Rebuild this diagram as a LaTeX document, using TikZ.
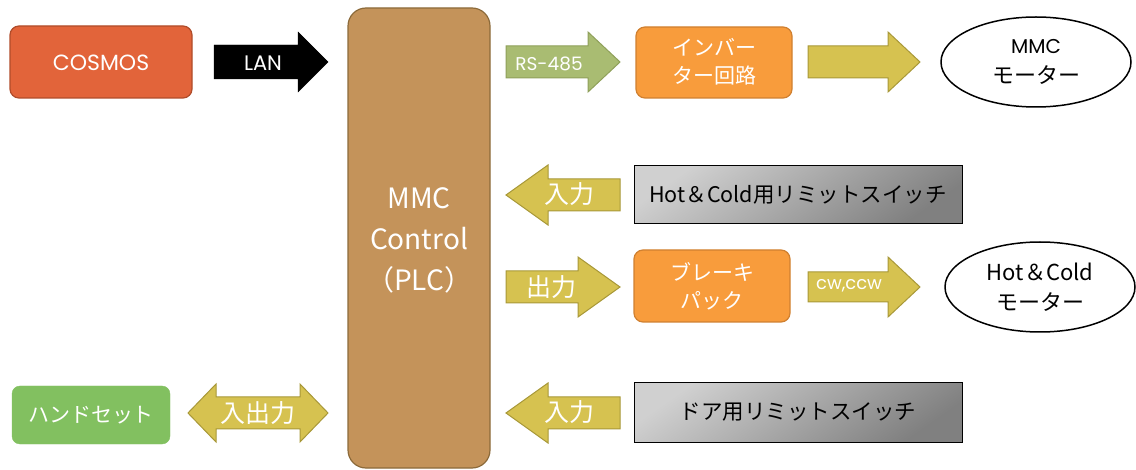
\documentclass[tikz,border=0pt]{standalone}
\usepackage{fontspec}
\setmainfont{Noto Sans CJK JP}
\newfontfamily\lat{Poppins}
\usetikzlibrary{shapes.geometric}
\definecolor{cosmos}{HTML}{E2643A}
\definecolor{cosmosb}{HTML}{B04C2A}
\definecolor{mmc}{HTML}{C4935A}
\definecolor{mmcb}{HTML}{8C6A3A}
\definecolor{rsg}{HTML}{A9BC72}
\definecolor{rsgb}{HTML}{8FA05A}
\definecolor{orng}{HTML}{F89C3C}
\definecolor{orngb}{HTML}{D08030}
\definecolor{yel}{HTML}{D6C250}
\definecolor{yelb}{HTML}{A89838}
\definecolor{hgreen}{HTML}{82C060}
\definecolor{gtop}{HTML}{D0D0D0}
\definecolor{gbot}{HTML}{808080}
\newcommand\barrow[7]{\draw[#1] (#2,#5-#6) -- (#3,#5-#6) -- (#3,#5-#7) -- (#4,#5) -- (#3,#5+#7) -- (#3,#5+#6) -- (#2,#5+#6) -- cycle;}
\tikzset{
  box/.style={rounded corners=9pt, line width=1.2pt},
  wtext/.style={text=white, align=center, inner sep=0pt},
  btext/.style={text=black, align=center, inner sep=0pt},
  yarrow/.style={fill=yel, draw=yelb, line width=1pt},
  graybox/.style={draw=black, line width=1pt, top color=gtop, bottom color=gbot, shading angle=35},
  motor/.style={draw=black, line width=1.5pt, fill=white}
}
\begin{document}
\begin{tikzpicture}[x=1pt,y=-1pt]
\useasboundingbox (0,0) rectangle (1136,470);
% main boxes
\draw[box, fill=cosmos, draw=cosmosb] (10,26) rectangle (192,98);
\node[wtext, font=\lat\fontsize{22}{26}\selectfont] (cosmos) at (101,63) {COSMOS};
\draw[box, rounded corners=18pt, fill=mmc, draw=mmcb] (348,8) rectangle (490,468);
\node[wtext, font=\fontsize{28}{41}\selectfont] (plc) at (419,240) {MMC\\Control\\（PLC）};
% LAN arrow
\barrow{fill=black}{214}{298}{328}{62}{17}{30}
\node[wtext, font=\lat\fontsize{21}{24}\selectfont] (lan) at (263,63) {LAN};
% row 1
\barrow{fill=rsg, draw=rsgb, line width=1pt}{506}{588}{620}{62}{16}{30}
\node[wtext, font=\lat\fontsize{18.5}{20}\selectfont] (rs) at (549,64) {RS-485};
\draw[box, fill=orng, draw=orngb] (636,27) rectangle (792,98);
\node[wtext, font=\fontsize{21}{28}\selectfont] (inv) at (714,62) {インバー\\ター回路};
\barrow{yarrow}{808}{888}{920}{62}{16}{30}
\draw[motor] (1036,62) ellipse [x radius=95, y radius=45];
\node[btext, font=\fontsize{22}{30}\selectfont] (m1) at (1036,62) {{\lat\fontsize{20}{22}\selectfont MMC}\\モーター};
% row 2
\barrow{yarrow}{620}{548}{506}{195}{16}{30}
\node[wtext, font=\fontsize{25}{28}\selectfont] (in1) at (569,194) {入力};
\draw[graybox] (634,166) rectangle (962,224);
\node[btext, font=\fontsize{21.5}{24}\selectfont] (ls1) at (798,195) {Hot＆Cold用リミットスイッチ};
% row 3
\barrow{yarrow}{506}{578}{620}{287}{16}{30}
\node[wtext, font=\fontsize{25}{28}\selectfont] (out1) at (551,287) {出力};
\draw[box, fill=orng, draw=orngb] (634,250) rectangle (790,322);
\node[wtext, font=\fontsize{21}{28}\selectfont] (brk) at (712,286) {ブレーキ\\パック};
\barrow{yarrow}{808}{888}{920}{287}{15}{30}
\node[wtext, font=\lat\fontsize{18}{20}\selectfont] (cw) at (849,286) {cw,ccw};
\draw[motor] (1040,287) ellipse [x radius=95, y radius=45];
\node[btext, font=\fontsize{22}{30}\selectfont] (m2) at (1040,287) {Hot＆Cold\\モーター};
% row 4
\draw[rounded corners=8pt, fill=hgreen, draw=hgreen] (12,386) rectangle (170,444);
\node[wtext, font=\fontsize{21}{24}\selectfont] (hs) at (91,415) {ハンドセット};
\draw[yarrow] (188,413) -- (216,384) -- (216,397) -- (300,397) -- (300,384) -- (328,413) -- (300,442) -- (300,429) -- (216,429) -- (216,442) -- cycle;
\node[wtext, font=\fontsize{25}{28}\selectfont] (io) at (258,413) {入出力};
\barrow{yarrow}{620}{548}{506}{413}{16}{30}
\node[wtext, font=\fontsize{25}{28}\selectfont] (in2) at (569,412) {入力};
\draw[graybox] (634,383) rectangle (962,442);
\node[btext, font=\fontsize{21.5}{24}\selectfont] (ls2) at (798,412) {ドア用リミットスイッチ};
\end{tikzpicture}
\end{document}
